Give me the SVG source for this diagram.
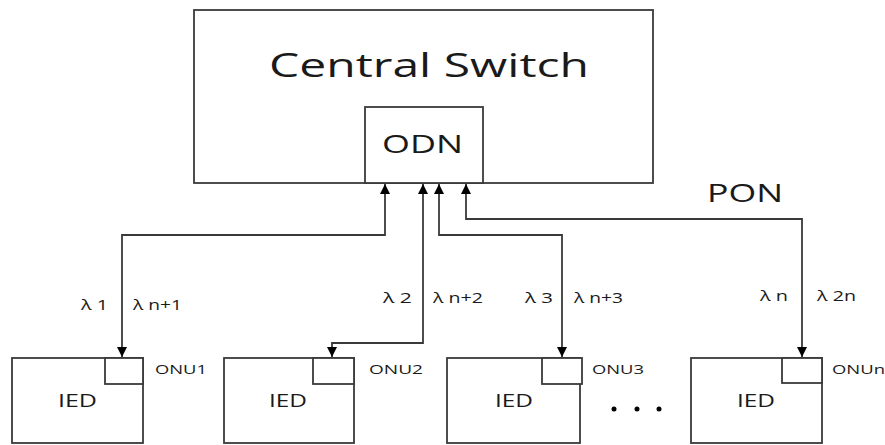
<svg xmlns="http://www.w3.org/2000/svg" width="885" height="445" viewBox="0 0 885 445">
<defs>
<style>
.box{fill:#fff;stroke:#3a3a3a;stroke-width:1.8}
.ln{fill:none;stroke:#3a3a3a;stroke-width:1.8}
text{font-family:"Open Sans","Noto Sans",sans-serif;fill:#1a1a1a}
.lam{font-size:14px}
.onu{font-size:13px}
.ied{font-size:19px}
</style>
<marker id="arr" markerUnits="userSpaceOnUse" markerWidth="10" markerHeight="10" viewBox="0 0 10 10" refX="10" refY="5" orient="auto-start-reverse">
<path d="M0,0 L10,5 L0,10 Z" fill="#000"/>
</marker>
</defs>
<rect width="885" height="445" fill="#fff"/>
<g id="central-switch">
<rect class="box" x="194" y="10" width="459" height="173"/>
<text x="269" y="77" font-size="33" textLength="320" lengthAdjust="spacingAndGlyphs">Central Switch</text>
</g>
<g id="odn">
<rect class="box" x="365" y="107" width="118" height="76"/>
<text x="382" y="153" font-size="25" textLength="81" lengthAdjust="spacingAndGlyphs">ODN</text>
</g>
<g id="ied1">
<rect class="box" x="12" y="358" width="131" height="85"/>
<text class="ied" x="58" y="407" textLength="39" lengthAdjust="spacingAndGlyphs">IED</text>
</g>
<g id="onu1">
<rect class="box" x="105" y="358" width="38" height="26"/>
<text class="onu" x="155" y="374" textLength="52" lengthAdjust="spacingAndGlyphs">ONU1</text>
</g>
<g id="ied2">
<rect class="box" x="224" y="358" width="130" height="85"/>
<text class="ied" x="269" y="407" textLength="38" lengthAdjust="spacingAndGlyphs">IED</text>
</g>
<g id="onu2">
<rect class="box" x="313" y="358" width="41" height="26"/>
<text class="onu" x="369" y="374" textLength="54" lengthAdjust="spacingAndGlyphs">ONU2</text>
</g>
<g id="ied3">
<rect class="box" x="447" y="358" width="133" height="85"/>
<text class="ied" x="495" y="407" textLength="38" lengthAdjust="spacingAndGlyphs">IED</text>
</g>
<g id="onu3">
<rect class="box" x="542" y="358" width="40" height="26"/>
<text class="onu" x="592" y="374" textLength="52" lengthAdjust="spacingAndGlyphs">ONU3</text>
</g>
<g id="iedn">
<rect class="box" x="691" y="358" width="131" height="85"/>
<text class="ied" x="737" y="407" textLength="38" lengthAdjust="spacingAndGlyphs">IED</text>
</g>
<g id="onun">
<rect class="box" x="782" y="358" width="40" height="25"/>
<text class="onu" x="832" y="374" textLength="53" lengthAdjust="spacingAndGlyphs">ONUn</text>
</g>
<g id="connectors">
<path class="ln" d="M385,184 V235 H122 V357" marker-start="url(#arr)" marker-end="url(#arr)"/>
<path class="ln" d="M423,184 V343 H332 V357" marker-start="url(#arr)" marker-end="url(#arr)"/>
<path class="ln" d="M439,184 V235 H562 V357" marker-start="url(#arr)" marker-end="url(#arr)"/>
<path class="ln" d="M466,184 V219 H802 V357" marker-start="url(#arr)" marker-end="url(#arr)"/>
</g>
<g id="labels">
<text x="707" y="202" font-size="25" textLength="76" lengthAdjust="spacingAndGlyphs">PON</text>
<text class="lam" x="81" y="310" textLength="27" lengthAdjust="spacingAndGlyphs">λ 1</text>
<text class="lam" x="133" y="310" textLength="49" lengthAdjust="spacingAndGlyphs">λ n+1</text>
<text class="lam" x="383" y="303" textLength="29" lengthAdjust="spacingAndGlyphs">λ 2</text>
<text class="lam" x="433" y="303" textLength="50" lengthAdjust="spacingAndGlyphs">λ n+2</text>
<text class="lam" x="525" y="303" textLength="28" lengthAdjust="spacingAndGlyphs">λ 3</text>
<text class="lam" x="574" y="303" textLength="49" lengthAdjust="spacingAndGlyphs">λ n+3</text>
<text class="lam" x="760" y="301" textLength="28" lengthAdjust="spacingAndGlyphs">λ n</text>
<text class="lam" x="817" y="301" textLength="39" lengthAdjust="spacingAndGlyphs">λ 2n</text>
</g>
<g id="ellipsis" fill="#000">
<circle cx="614" cy="409" r="2.5"/>
<circle cx="637" cy="409" r="2.5"/>
<circle cx="659" cy="409" r="2.5"/>
</g>
</svg>
